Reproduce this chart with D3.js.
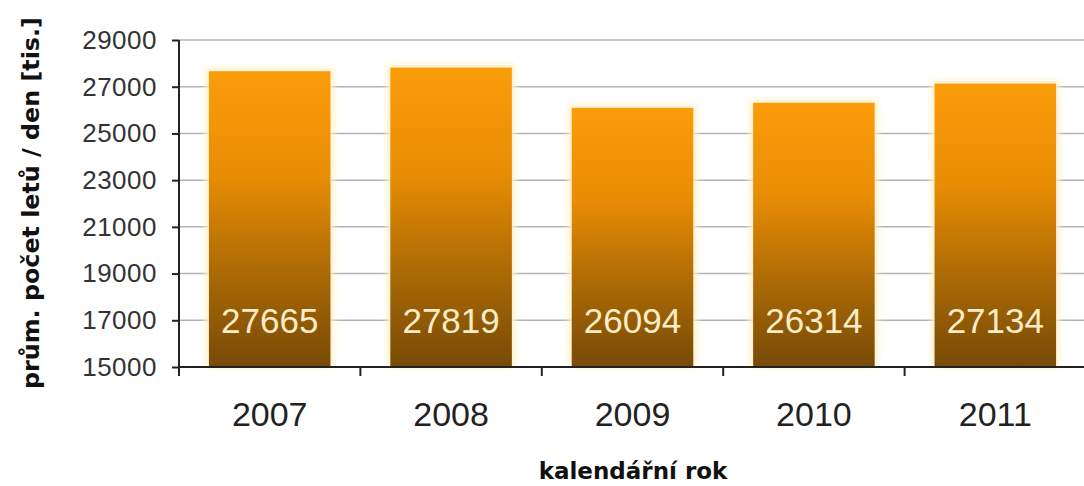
<!DOCTYPE html>
<html>
<head>
<meta charset="utf-8">
<script src="https://cdn.jsdelivr.net/npm/d3@7"></script>
<style>
  html, body { margin: 0; padding: 0; background: #fff; }
  svg { display: block; }
</style>
</head>
<body>
<svg id="chart" width="1084" height="486"></svg>
<script>
// Average number of flights per day, by calendar year
const years = ["2007", "2008", "2009", "2010", "2011"];
const flights = [27665, 27819, 26094, 26314, 27134];
const yTicks = [15000, 17000, 19000, 21000, 23000, 25000, 27000, 29000];

const svg = d3.select("#chart");
const W = 1084, H = 486;
const margin = { left: 179, right: -2, top: 40, bottom: 119 };

const x = d3.scaleBand()
  .domain(years)
  .range([margin.left, W - margin.right])
  .paddingInner(0.33)
  .paddingOuter(0.165);

const y = d3.scaleLinear()
  .domain([15000, 29000])
  .range([H - margin.bottom, margin.top]);

const defs = svg.append("defs");
const grad = defs.append("linearGradient")
  .attr("id", "barFill")
  .attr("x1", 0).attr("y1", 0).attr("x2", 0).attr("y2", 1);
grad.append("stop").attr("offset", "0%").attr("stop-color", "#fb9c0a");
grad.append("stop").attr("offset", "35%").attr("stop-color", "#e98d04");
grad.append("stop").attr("offset", "70%").attr("stop-color", "#a86805");
grad.append("stop").attr("offset", "100%").attr("stop-color", "#774a06");

const glow = defs.append("filter").attr("id", "glow")
  .attr("x", "-10%").attr("y", "-10%").attr("width", "120%").attr("height", "120%");
glow.append("feGaussianBlur").attr("stdDeviation", 3);

// gridlines
svg.append("g")
  .selectAll("line")
  .data(yTicks)
  .join("line")
  .attr("x1", margin.left)
  .attr("x2", W)
  .attr("y1", d => y(d))
  .attr("y2", d => y(d))
  .attr("stroke", "#b4b4b4")
  .attr("stroke-width", 1.5);

// soft halo behind bars
svg.append("g")
  .selectAll("rect")
  .data(flights)
  .join("rect")
  .attr("x", (d, i) => x(years[i]) - 3)
  .attr("width", x.bandwidth() + 6)
  .attr("y", d => y(d) - 3)
  .attr("height", d => y(15000) - y(d) + 3)
  .attr("fill", "#fff1c8")
  .attr("filter", "url(#glow)");

// bars
svg.append("g")
  .selectAll("rect")
  .data(flights)
  .join("rect")
  .attr("x", (d, i) => x(years[i]))
  .attr("width", x.bandwidth())
  .attr("y", d => y(d))
  .attr("height", d => y(15000) - y(d))
  .attr("fill", "url(#barFill)");

// value labels inside bars
svg.append("g")
  .selectAll("text")
  .data(flights)
  .join("text")
  .attr("x", (d, i) => x(years[i]) + x.bandwidth() / 2)
  .attr("y", y(17000))
  .attr("dy", "0.36em")
  .attr("text-anchor", "middle")
  .attr("font-family", "Liberation Sans, Arial, sans-serif")
  .attr("font-size", 35)
  .attr("fill", "#fbecc8")
  .text(d => d);

// y axis
const yAxis = svg.append("g")
  .attr("transform", `translate(${margin.left},0)`)
  .call(d3.axisLeft(y).tickValues(yTicks).tickSize(7).tickPadding(15).tickFormat(d3.format("d")));
yAxis.select(".domain").attr("stroke", "#222").attr("stroke-width", 2).attr("d", `M0,${y(29000)}V${y(15000)}`);
yAxis.selectAll(".tick line").attr("stroke", "#222").attr("stroke-width", 2);
yAxis.selectAll(".tick text")
  .attr("font-family", "Liberation Sans, Arial, sans-serif")
  .attr("font-size", 26)
  .attr("letter-spacing", 0.5)
  .attr("fill", "#333");

// x axis
const bandStep = x.step();
const xAxis = svg.append("g")
  .attr("transform", `translate(0,${y(15000)})`)
  .call(d3.axisBottom(x).tickSize(0).tickPadding(35));
xAxis.select(".domain").attr("stroke", "#222").attr("stroke-width", 2).attr("d", `M${margin.left},0H${W}`);
xAxis.selectAll(".tick text")
  .attr("font-family", "Liberation Sans, Arial, sans-serif")
  .attr("font-size", 34)
  .attr("fill", "#222");
// category boundary ticks
svg.append("g")
  .selectAll("line")
  .data(years)
  .join("line")
  .attr("x1", d => x(d) - (bandStep - x.bandwidth()) / 2)
  .attr("x2", d => x(d) - (bandStep - x.bandwidth()) / 2)
  .attr("y1", y(15000))
  .attr("y2", y(15000) + 9)
  .attr("stroke", "#222")
  .attr("stroke-width", 2);

// axis titles
svg.append("text")
  .attr("x", 633)
  .attr("y", 471)
  .attr("dy", "0.35em")
  .attr("text-anchor", "middle")
  .attr("font-family", "DejaVu Sans, Verdana, sans-serif")
  .attr("font-weight", "bold")
  .attr("font-size", 23)
  .attr("fill", "#111")
  .text("kalendářní rok");

svg.append("text")
  .attr("transform", `translate(31,203) rotate(-90)`)
  .attr("dy", "0.35em")
  .attr("text-anchor", "middle")
  .attr("font-family", "DejaVu Sans, Verdana, sans-serif")
  .attr("font-weight", "bold")
  .attr("font-size", 23.8)
  .attr("fill", "#111")
  .text("prům. počet letů / den [tis.]");
</script>
</body>
</html>
